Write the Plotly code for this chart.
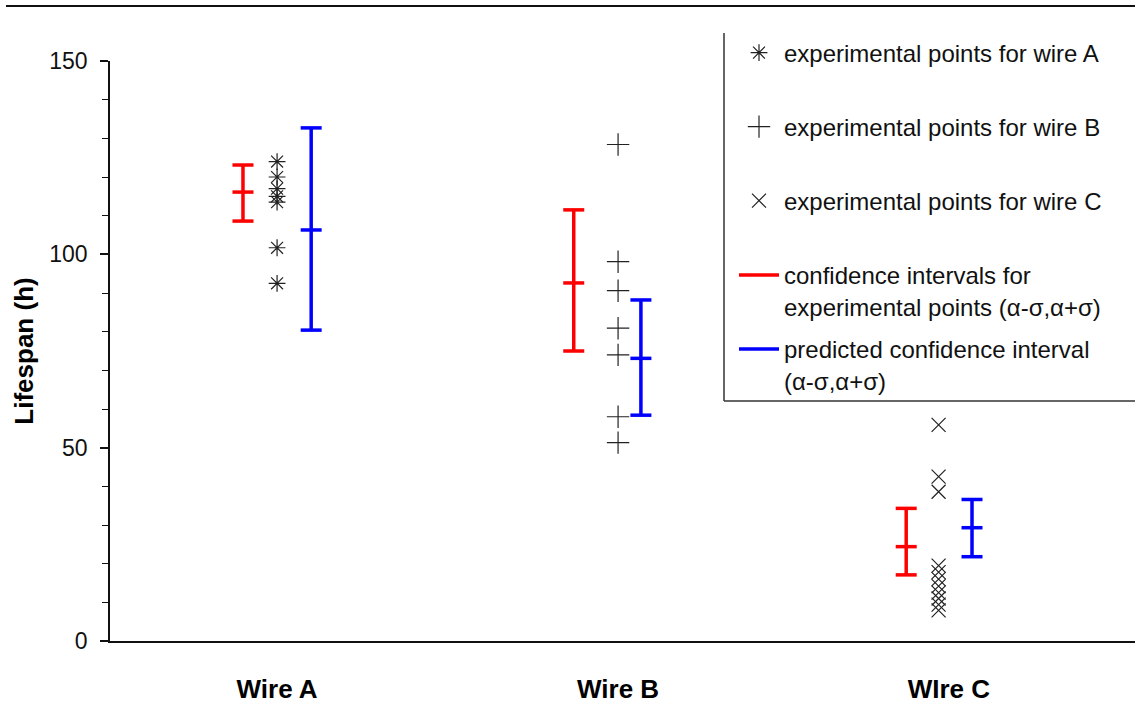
import plotly.graph_objects as go

# categories and positions on the numeric x axis
wires = ["Wire A", "Wire B", "WIre C"]
label_x = [1, 2, 2.97]
red_x = [0.9, 1.87, 2.845]
pts_x = [1, 2, 2.94]
blue_x = [1.1, 2.067, 3.038]

# experimental points
pts_a = [124, 120, 117, 115, 113.5, 101.7, 92.5]
pts_b = [128.4, 98.1, 90.6, 80.9, 74.0, 58.0, 51.3]
pts_c = [55.9, 42.5, 38.6, 19.5, 17.8, 16.0, 14.2, 12.5, 11.0, 9.4, 7.9]

# confidence intervals for experimental points (low, mean, high)
red_lo = [108.6, 75.0, 17.1]
red_mid = [116.1, 92.6, 24.4]
red_hi = [123.1, 111.5, 34.3]

# predicted confidence intervals
blue_lo = [80.4, 58.4, 21.8]
blue_mid = [106.3, 73.1, 29.3]
blue_hi = [132.7, 88.2, 36.6]

FONT = "Liberation Sans, Arial, sans-serif"


def interval_xy(xs, lo, mid, hi):
    x, y = [], []
    for xi, a, m, b in zip(xs, lo, mid, hi):
        x += [xi, xi, xi, None]
        y += [a, m, b, None]
    return x, y


fig = go.Figure()

for xi, vals, sym, size, name, lg in [
    (pts_x[0], pts_a, "asterisk-open", 14, "experimental points for wire A", "legend"),
    (pts_x[1], pts_b, "cross-thin-open", 16, "experimental points for wire B", "legend2"),
    (pts_x[2], pts_c, "x-thin-open", 14, "experimental points for wire C", "legend3"),
]:
    fig.add_trace(go.Scatter(
        x=[xi] * len(vals), y=vals, mode="markers", name=name, legend=lg,
        marker=dict(symbol=sym, size=size, color="#222", line=dict(width=1.2, color="#222")),
    ))

rx, ry = interval_xy(red_x, red_lo, red_mid, red_hi)
bx, by = interval_xy(blue_x, blue_lo, blue_mid, blue_hi)
for xs, ys, col in [(rx, ry, "#ff0000"), (bx, by, "#0000ff")]:
    fig.add_trace(go.Scatter(
        x=xs, y=ys, mode="lines+markers", showlegend=False,
        line=dict(color=col, width=3.5),
        marker=dict(symbol="line-ew-open", size=15, line=dict(width=3.5, color=col)),
    ))

# legend-only line entries
fig.add_trace(go.Scatter(
    x=[None], y=[None], mode="lines", legend="legend4",
    name="confidence intervals for<br>experimental points (α-σ,α+σ)",
    line=dict(color="#ff0000", width=3.5),
))
fig.add_trace(go.Scatter(
    x=[None], y=[None], mode="lines", legend="legend5",
    name="predicted confidence interval<br>(α-σ,α+σ)",
    line=dict(color="#0000ff", width=3.5),
))

# geometry helpers (plot area: x 110..1135, y 61..641 px)
def px_x(p):
    return (p - 110) / 1025


def px_y(p):
    return (641 - p) / 580


leg_common = dict(font=dict(family=FONT, size=24, color="#111"), bgcolor="rgba(0,0,0,0)",
                  xanchor="left", yanchor="middle", itemwidth=40, valign="top")
leg_x = px_x(734)
fig.update_layout(
    legend=dict(x=leg_x, y=px_y(53), **leg_common),
    legend2=dict(x=leg_x, y=px_y(127), **leg_common),
    legend3=dict(x=leg_x, y=px_y(201), **leg_common),
    legend4=dict(x=leg_x, y=px_y(291), **leg_common),
    legend5=dict(x=leg_x, y=px_y(365), **leg_common),
)

fig.update_layout(
    width=1135, height=707,
    margin=dict(l=110, r=0, t=61, b=66),
    plot_bgcolor="white", paper_bgcolor="white",
    font=dict(family=FONT, color="#111"),
    xaxis=dict(
        range=[0.51, 3.516], tickvals=label_x, ticktext=wires,
        showline=True, linecolor="#111", linewidth=1.5, ticks="",
        showgrid=False, zeroline=False,
        tickfont=dict(family=FONT, size=26, color="#000", weight="bold"),
        ticklabelstandoff=24,
    ),
    yaxis=dict(
        range=[0, 150], tickvals=[0, 50, 100, 150],
        showline=True, linecolor="#111", linewidth=1.5,
        ticks="outside", ticklen=8, tickwidth=1.5, tickcolor="#111",
        minor=dict(dtick=10, ticks="outside", ticklen=6, tickwidth=1.2, tickcolor="#111"),
        showgrid=False, zeroline=False,
        tickfont=dict(family=FONT, size=23, color="#111"),
        ticklabelstandoff=8,
        title=dict(text="<b>Lifespan (h)</b>", font=dict(family=FONT, size=26, color="#000"),
                   standoff=8),
    ),
    shapes=[
        dict(type="line", xref="paper", yref="paper", x0=px_x(6), x1=1, y0=px_y(6), y1=px_y(6),
             line=dict(color="#111", width=2)),
        dict(type="line", xref="paper", yref="paper", x0=px_x(724), x1=px_x(724), y0=px_y(33), y1=px_y(401),
             line=dict(color="#333", width=1.5)),
        dict(type="line", xref="paper", yref="paper", x0=px_x(724), x1=1, y0=px_y(401), y1=px_y(401),
             line=dict(color="#333", width=1.5)),
    ],
)

fig.write_html("out.html", config={"displayModeBar": False},
               post_script="document.body.style.margin='0';")
